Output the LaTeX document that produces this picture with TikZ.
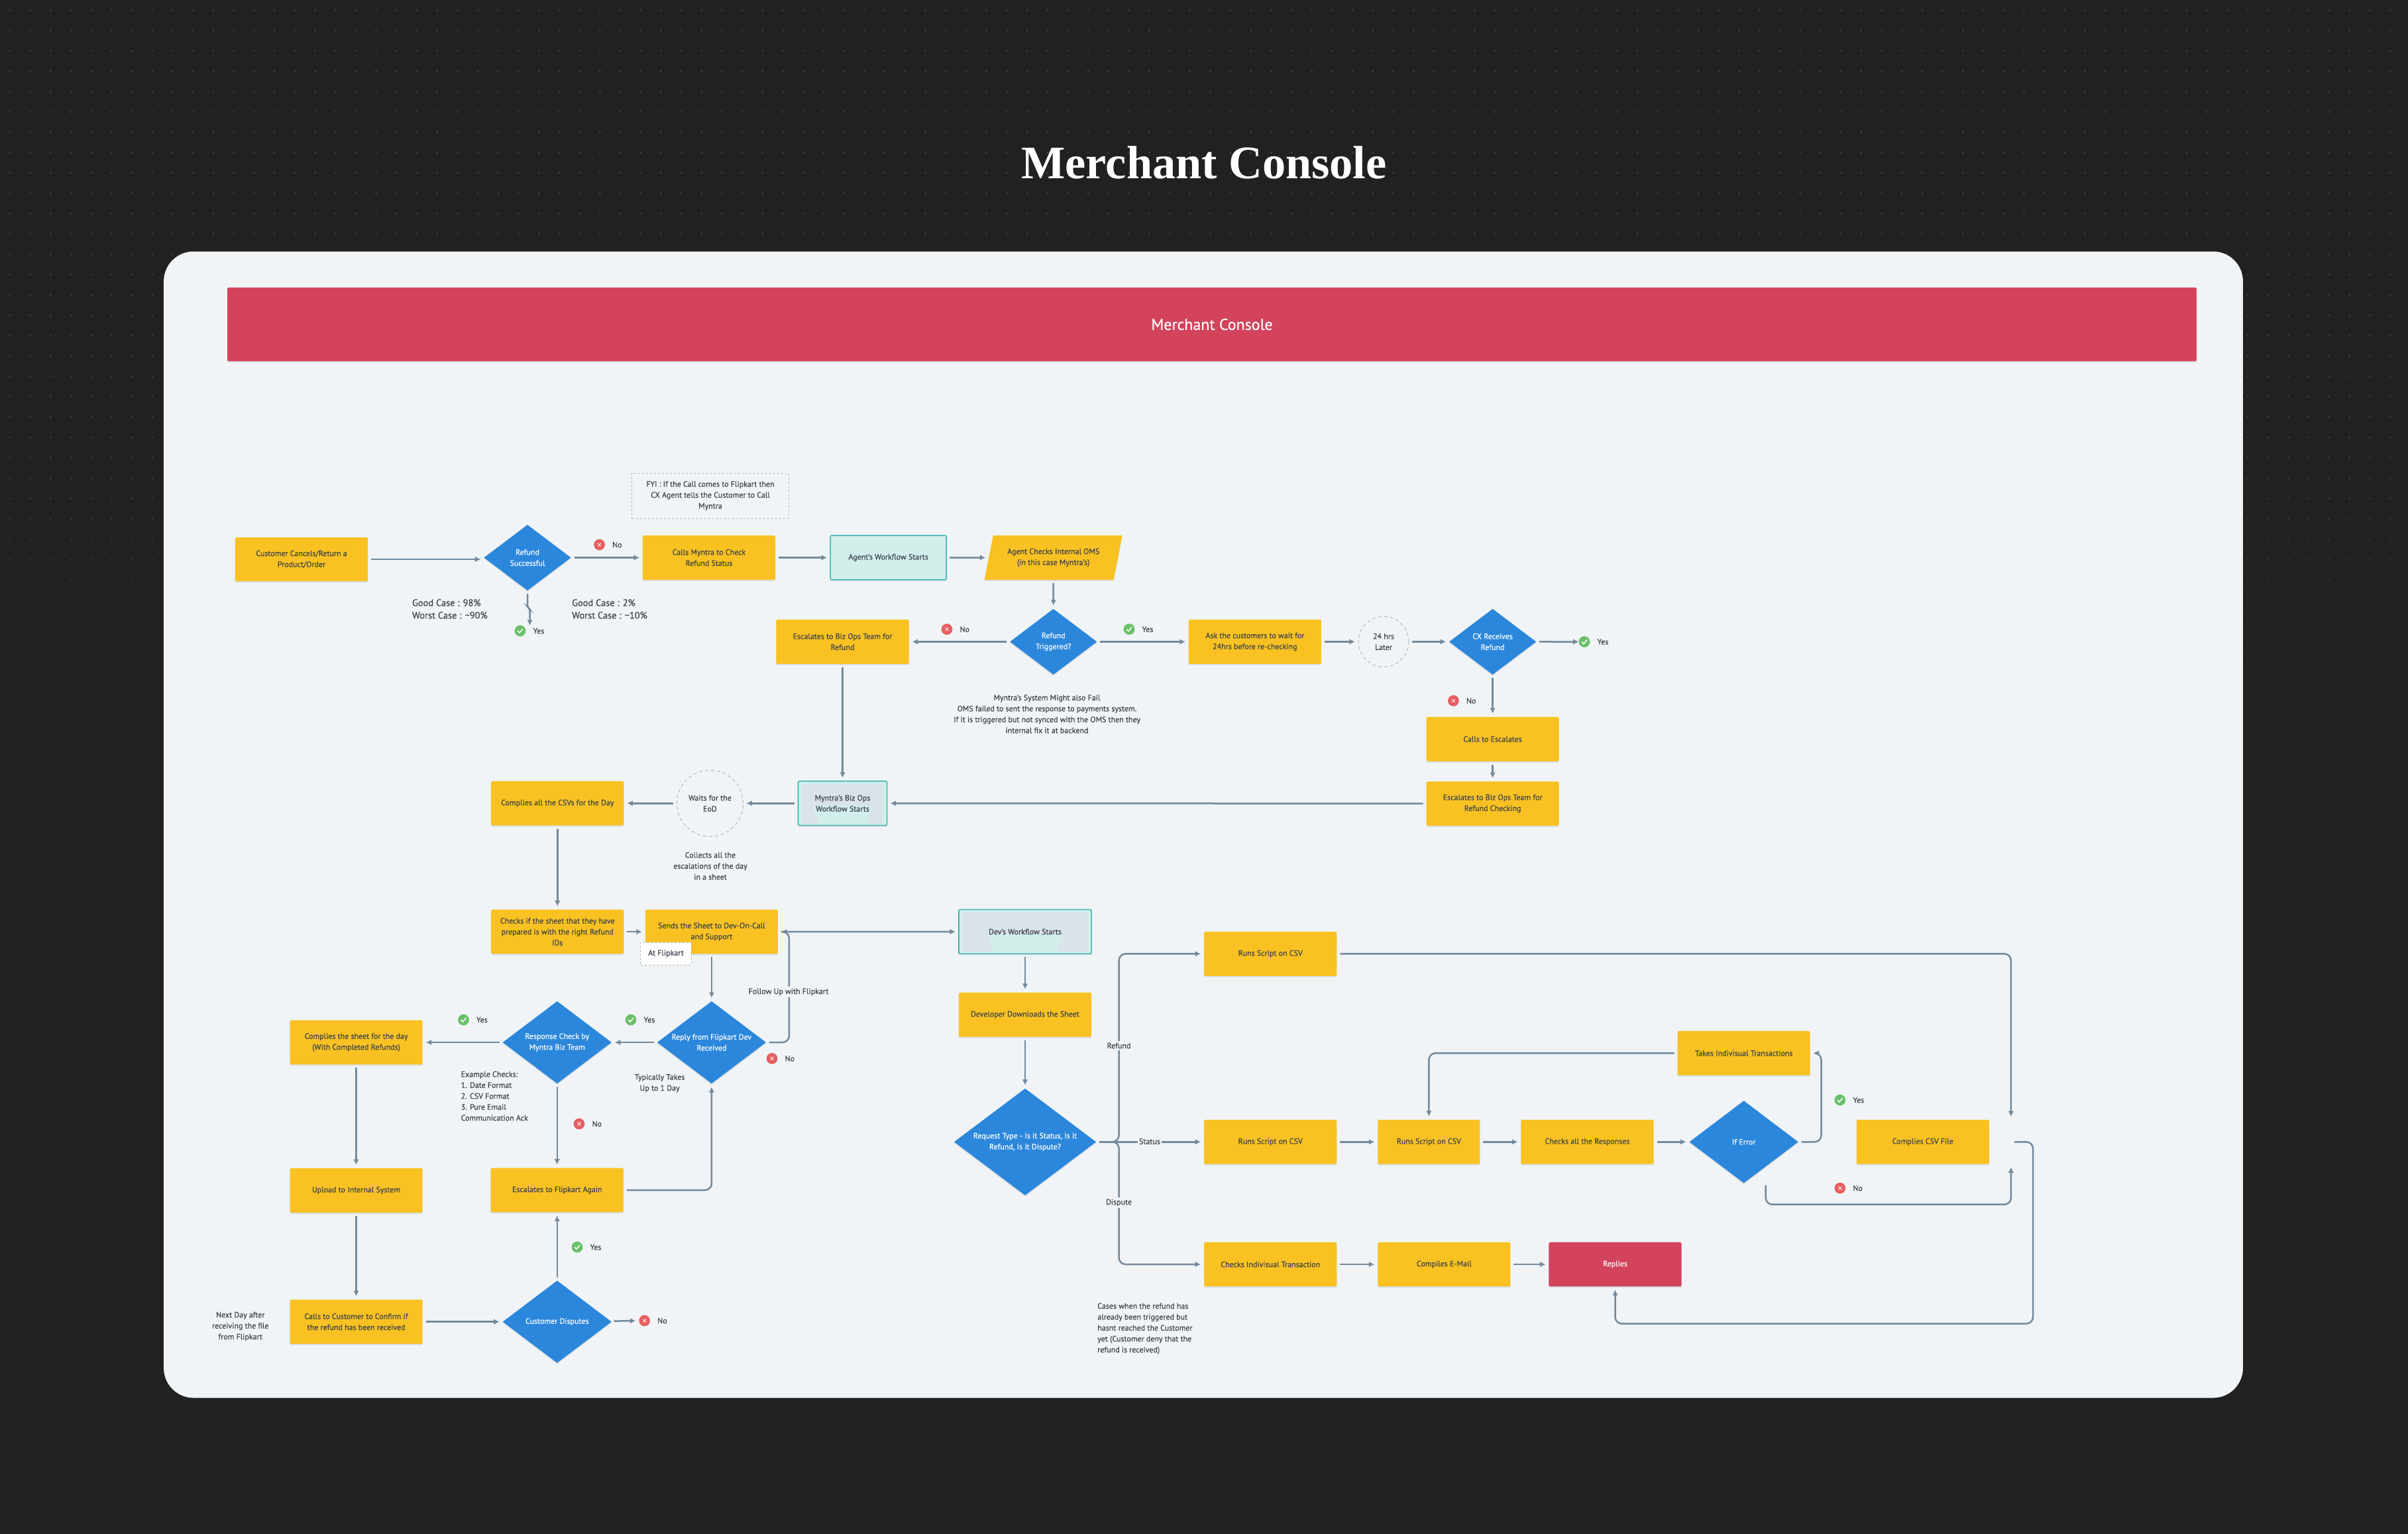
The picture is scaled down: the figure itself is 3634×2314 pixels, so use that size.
\documentclass[tikz,border=0pt]{standalone}
\usepackage{fontspec}
\setmainfont{PT Sans}[BoldFont=PT Sans, BoldFeatures={FakeBold=0.25}]
\newfontfamily\titlefont{Liberation Serif}
\usepackage{xcolor}
\usetikzlibrary{shapes.geometric, arrows.meta, positioning, shadows}
\definecolor{bgDark}{HTML}{212121}
\definecolor{dotGrey}{HTML}{3E3E3E}
\definecolor{panelGrey}{HTML}{F0F4F7}
\definecolor{bannerRed}{HTML}{D3445C}
\definecolor{stepYellow}{HTML}{F9C222}
\definecolor{askBlue}{HTML}{2B87DB}
\definecolor{startTeal}{HTML}{D2EFEC}
\definecolor{startEdge}{HTML}{3DB5B0}
\definecolor{stippleGrey}{HTML}{DAE4E8}
\definecolor{lineGrey}{HTML}{75899A}
\definecolor{inkDark}{HTML}{3A424C}
\definecolor{dashGrey}{HTML}{AEB8BF}
\definecolor{okGreen}{HTML}{6ABF69}
\definecolor{noRed}{HTML}{E56060}

\begin{document}
\begin{tikzpicture}[
            x=0.01cm,
            y=-0.01cm,
            softshadow/.style={
                drop shadow={shadow xshift=0cm, shadow yshift=-0.02cm, opacity=.09, fill=black}
            },
            % Plain steps
            block/.style={
                rectangle,
                fill=stepYellow,
                text=inkDark,
                minimum width=2cm,
                minimum height=0.667cm,
                inner sep=0pt,
                outer sep=0pt,
                align=center,
                rounded corners=0.6pt,
                font={\bfseries\fontsize{3.4pt}{4.69pt}\selectfont},
                softshadow
            },
            slanted/.style={
                block,
                trapezium,
                trapezium left angle=70,
                trapezium right angle=110,
                trapezium stretches=true,
                minimum width=2.08cm,
                rounded corners=0pt
            },
            redblock/.style={
                block,
                fill=bannerRed,
                text=white
            },
            workflow/.style={
                block,
                fill=startTeal,
                draw=startEdge,
                line width=0.016cm
            },
            workflowdots/.style 2 args={
                workflow,
                path picture={
                    \fill[stippleGrey] ([xshift=0.06cm,yshift=0.02cm]path picture bounding box.south west)
                        rectangle ([xshift=-0.06cm,yshift=-0.04cm]path picture bounding box.north east);
                    \fill[startTeal] ([shift={(-#1,4)}]path picture bounding box.center)
                        -- ([shift={(#1,4)}]path picture bounding box.center)
                        -- ([shift={(#2,33)}]path picture bounding box.center)
                        -- ([shift={(-#2,33)}]path picture bounding box.center) -- cycle;
                }
            },
            decision/.style={
                diamond,
                aspect=1.32,
                fill=askBlue,
                text=white,
                inner sep=0pt,
                outer sep=0pt,
                minimum width=1.64cm,
                minimum height=1.24cm,
                align=center,
                font={\bfseries\fontsize{3.4pt}{4.69pt}\selectfont},
                softshadow
            },
            waiting/.style={
                circle,
                draw=dashGrey,
                dash pattern=on 0.05cm off 0.04cm,
                line width=0.01cm,
                text=inkDark,
                inner sep=0pt,
                outer sep=0pt,
                align=center,
                font={\bfseries\fontsize{3.4pt}{4.69pt}\selectfont}
            },
            dashbox/.style={
                rectangle,
                draw=dashGrey,
                dash pattern=on 0.03cm off 0.03cm,
                line width=0.01cm,
                text=inkDark,
                inner sep=0pt,
                align=center,
                font={\bfseries\fontsize{3.4pt}{4.69pt}\selectfont}
            },
            note/.style={
                text=inkDark,
                inner sep=0pt,
                align=center,
                font={\bfseries\fontsize{3.4pt}{4.69pt}\selectfont}
            },
            leftnote/.style={
                note,
                align=left,
                anchor=west
            },
            bignote/.style={
                leftnote,
                font={\bfseries\fontsize{4.1pt}{5.39pt}\selectfont}
            },
            edgetext/.style={
                note,
                fill=panelGrey,
                inner xsep=0.02cm,
                inner ysep=0.03cm
            },
            marktext/.style={
                text=inkDark,
                inner sep=0.105cm,
                font={\bfseries\fontsize{3.4pt}{4.69pt}\selectfont}
            },
            yesmark/.style={
                circle,
                fill=okGreen,
                minimum size=0.167cm,
                inner sep=0pt,
                outer sep=0pt,
                label={[marktext]right:Yes},
                path picture={
                    \draw[white, line width=0.015cm]
                        ([shift={(-4,0)}]path picture bounding box.center)
                        -- ([shift={(-1,3)}]path picture bounding box.center)
                        -- ([shift={(4,-3)}]path picture bounding box.center);
                }
            },
            nomark/.style={
                circle,
                fill=noRed,
                minimum size=0.167cm,
                inner sep=0pt,
                outer sep=0pt,
                label={[marktext]right:No},
                path picture={
                    \draw[white, line width=0.008cm]
                        ([shift={(-2.5,-2.5)}]path picture bounding box.center)
                        -- ([shift={(2.5,2.5)}]path picture bounding box.center);
                    \draw[white, line width=0.008cm]
                        ([shift={(-2.5,2.5)}]path picture bounding box.center)
                        -- ([shift={(2.5,-2.5)}]path picture bounding box.center);
                }
            },
            line/.style={
                draw=lineGrey,
                -{Latex[length=0.085cm,width=0.085cm]},
                line width=0.025cm,
                shorten >=0.05cm,
                shorten <=0.05cm
            },
            bent/.style={
                line,
                rounded corners=0.1cm
            }
        ]

        % --- Backdrop ---
        \useasboundingbox (0,0) rectangle (3634,2314);
        \fill[bgDark] (-10,-10) rectangle (3644,2324);
        \foreach \j in {0,...,33} {
            \pgfmathsetmacro\dotmix{\j<24 ? 100 : 100-(\j-23)*9}
            \pgfmathsetmacro\rowy{15.3+30.7*\j}
            \fill[dotGrey!\dotmix!bgDark] \foreach \i in {0,...,117} {(15+30.7*\i,\rowy) circle (1.6)};
        }
        \node [rectangle, fill=panelGrey, rounded corners=0.45cm, minimum width=31.36cm, minimum height=17.29cm] (panel) at (1816,1244.5) {};
        \node [text=white, font={\titlefont\bfseries\fontsize{20pt}{23pt}\selectfont}] (title) at (1817,245) {Merchant Console};
        \node [redblock, minimum width=29.7cm, minimum height=1.11cm, font={\bfseries\fontsize{6.8pt}{8pt}\selectfont}] (banner) at (1829,489.5) {Merchant Console};

        % --- Nodes: agent row ---
        \node [block, minimum height=0.66cm] (cancel) at (455,844) {Customer Cancels/Return a\\Product/Order};
        \node [decision, minimum width=1.31cm, minimum height=0.99cm] (success) at (796,841.5) {Refund\\Successful};
        \node [block] (callmyntra) at (1070,841.5) {Calls Myntra to Check\\Refund Status};
        \node [workflow, minimum width=1.75cm, right=0.83cm of callmyntra] (agentstart) {Agent's Workflow Starts};
        \node [slanted, right=0.64cm of agentstart] (agentoms) {Agent Checks Internal OMS\\(in this case Myntra's)};
        \node [dashbox, minimum width=2.36cm, minimum height=0.68cm] (fyi) at (1072,748) {FYI : If the Call comes to Flipkart then\\CX Agent tells the Customer to Call\\Myntra};

        % --- Nodes: refund check row ---
        \node [decision, minimum width=1.31cm, minimum height=0.99cm, below=0.44cm of agentoms] (triggered) {Refund\\Triggered?};
        \node [block, left=1.525cm of triggered] (escbiz) {Escalates to Biz Ops Team for\\Refund};
        \node [block, right=1.385cm of triggered] (askwait) {Ask the customers to wait for\\24hrs before re-checking};
        \node [waiting, minimum size=0.76cm, right=0.56cm of askwait] (later) {24 hrs\\Later};
        \node [decision, minimum width=1.31cm, minimum height=0.99cm, right=0.61cm of later] (received) {CX Receives\\Refund};
        \node [block, below=0.64cm of received] (callesc) {Calls to Escalates};
        \node [block, below=0.305cm of callesc] (escchecking) {Escalates to Biz Ops Team for\\Refund Checking};

        % --- Nodes: biz ops ---
        \node [workflowdots={45}{36}, minimum width=1.34cm, below=1.77cm of escbiz] (bizstart) {Myntra's Biz Ops\\Workflow Starts};
        \node [waiting, minimum size=1cm, left=0.83cm of bizstart] (eod) {Waits for the\\EoD};
        \node [block, left=0.8cm of eod] (csvday) {Complies all the CSVs for the Day};
        \node [block, below=1.27cm of csvday] (checksheet) {Checks if the sheet that they have\\prepared is with the right Refund\\IDs};
        \node [block, right=0.325cm of checksheet] (sendsheet) {Sends the Sheet to Dev-On-Call\\and Support};
        \node [dashbox, fill=white, minimum width=0.76cm, minimum height=0.34cm] (atflipkart) at (1005,1439) {At Flipkart};
        \node [decision, below=0.715cm of sendsheet] (reply) {Reply from Flipkart Dev\\Received};
        \node [decision, left=0.69cm of reply] (response) {Response Check by\\Myntra Biz Team};
        \node [block, left=1.21cm of response] (sheetday) {Complies the sheet for the day\\(With Completed Refunds)};
        \node [block, below=1.565cm of sheetday] (upload) {Upload to Internal System};
        \node [block, below=1.315cm of upload] (callcustomer) {Calls to Customer to Confirm if\\the refund has been received};
        \node [decision, right=1.21cm of callcustomer] (disputes) {Customer Disputes};
        \node [block, below=1.275cm of response] (escagain) {Escalates to Flipkart Again};

        % --- Nodes: dev ---
        \node [workflowdots={57}{46}] (devstart) at (1547,1406) {Dev's Workflow Starts};
        \node [block, below=0.585cm of devstart] (download) {Developer Downloads the Sheet};
        \node [decision, minimum width=2.14cm, minimum height=1.61cm, below=0.78cm of download] (request) {Request Type - Is it Status, Is it\\Refund, Is it Dispute?};
        \node [block, right=1.63cm of request] (runmid) {Runs Script on CSV};
        \node [block, above=2.17cm of runmid] (runtop) {Runs Script on CSV};
        \node [block, below=1.18cm of runmid] (checktxn) {Checks Indivisual Transaction};
        \node [block, minimum width=1.54cm, right=0.62cm of runmid] (runagain) {Runs Script on CSV};
        \node [block, right=0.62cm of runagain] (checkall) {Checks all the Responses};
        \node [decision, right=0.54cm of checkall] (iferror) {If Error};
        \node [block, above=0.385cm of iferror] (taketxn) {Takes Indivisual Transactions};
        \node [block, right=0.88cm of iferror] (csvfile) {Complies CSV File};
        \node [block, right=0.62cm of checktxn] (email) {Compiles E-Mail};
        \node [redblock, right=0.58cm of email] (replies) {Replies};

        % --- Side notes ---
        \node [bignote] (goodleft) at (621.4,919) {Good Case : 98\%\\Worst Case : \textasciitilde 90\%};
        \node [bignote] (goodright) at (862.5,919) {Good Case : 2\%\\Worst Case : \textasciitilde 10\%};
        \node [note] (omsfail) at (1580,1077.5) {Myntra's System Might also Fail\\OMS failed to sent the response to payments system.\\If it is triggered but not synced with the OMS then they\\internal fix it at backend};
        \node [note] (collects) at (1072,1306.8) {Collects all the\\escalations of the day\\in a sheet};
        \node [leftnote] (examples) at (695,1654) {Example Checks:\\1. Date Format\\2. CSV Format\\3. Pure Email\\Communication Ack};
        \node [note] (oneday) at (995.6,1634.7) {Typically Takes\\Up to 1 Day};
        \node [note] (nextday) at (362.8,2001.7) {Next Day after\\receiving the file\\from Flipkart};
        \node [leftnote] (cases) at (1655.6,2005) {Cases when the refund has\\already been triggered but\\hasnt reached the Customer\\yet (Customer deny that the\\refund is received)};

        % --- Yes / No marks ---
        \node [yesmark] (yessuccess) at (785,952) {};
        \node [nomark] (nosuccess) at (904.6,822) {};
        \node [nomark] (notriggered) at (1429,949.6) {};
        \node [yesmark] (yestriggered) at (1704,949.6) {};
        \node [yesmark] (yesreceived) at (2391,968.5) {};
        \node [nomark] (noreceived) at (2193.4,1057.5) {};
        \node [yesmark] (yesresponse) at (699.5,1539) {};
        \node [yesmark] (yesreply) at (952,1539) {};
        \node [nomark] (noreply) at (1165,1597.4) {};
        \node [nomark] (noresponse) at (874,1696) {};
        \node [yesmark] (yesdisputes) at (871,1882) {};
        \node [nomark] (nodisputes) at (972.7,1993) {};
        \node [yesmark] (yeserror) at (2776.8,1660) {};
        \node [nomark] (noerror) at (2776.8,1793) {};

        % --- Bend points ---
        \coordinate (successdown) at (799.5,949);
        \coordinate [right=0.17cm of sendsheet.east] (followbend);
        \coordinate [left=1.285cm of runtop.west] (refundbend);
        \coordinate [left=1.285cm of checktxn.west] (disputebend);
        \coordinate [right=0.168cm of taketxn.east] (errorbend);
        \coordinate [right=0.33cm of csvfile.east] (csvgate);
        \coordinate [above=0.33cm of csvgate] (csvtop);
        \coordinate [below=0.33cm of csvgate] (csvbottom);
        \coordinate (errorout) at (2664.7,1783.7);
        \coordinate (errorlow) at (2664.7,1817.7);
        \coordinate (csvloop) at (3068,1997.6);

        % --- Edges ---
        \path [line] (cancel.east) -- (cancel.east -| success.west);
        \path [line] (success) -- (callmyntra);
        \path [line, rounded corners=0.03cm] (success.south) -- ++(0,25) -- ++(3.5,3) -- (successdown);
        \path [line] (callmyntra) -- (agentstart);
        \path [line] (agentstart) -- (agentoms);
        \path [line] (agentoms) -- (triggered);
        \path [line] (triggered) -- (escbiz);
        \path [line] (triggered) -- (askwait);
        \path [line] (askwait) -- (later);
        \path [line] (later) -- (received);
        \path [line, shorten >=0cm] (received) -- (yesreceived);
        \path [line] (received) -- (callesc);
        \path [line] (callesc) -- (escchecking);
        \path [line] (escchecking) -- (bizstart);
        \path [line] (escbiz) -- (bizstart);
        \path [line] (bizstart) -- (eod);
        \path [line] (eod) -- (csvday);
        \path [line] (csvday) -- (checksheet);
        \path [line] (checksheet) -- (sendsheet);
        \path [line] (sendsheet) -- (reply);
        \path [line] (sendsheet) -- (devstart);
        \path [bent] (reply.east) -| (followbend) -- (sendsheet.east);
        \path [line] (reply) -- (response);
        \path [line] (response) -- (sheetday);
        \path [line] (response) -- (escagain);
        \path [bent] (escagain.east) -| (reply.south);
        \path [line] (sheetday) -- (upload);
        \path [line] (upload) -- (callcustomer);
        \path [line] (callcustomer) -- (disputes);
        \path [line] (disputes) -- (escagain);
        \path [line] (disputes) -- (nodisputes);
        \path [line] (devstart) -- (download);
        \path [line] (download) -- (request);
        \path [bent] (request.east) -| (refundbend) -- (runtop.west);
        \path [line] (request) -- (runmid);
        \path [bent] (request.east) -| (disputebend) -- (checktxn.west);
        \path [line] (runmid) -- (runagain);
        \path [line] (runagain) -- (checkall);
        \path [line] (checkall) -- (iferror);
        \path [bent] (iferror.east) -| (errorbend) -- (taketxn.east);
        \path [bent] (taketxn.west) -| (runagain.north);
        \path [bent] (errorout) -- (errorlow) -| (csvbottom);
        \path [bent] (runtop.east) -| (csvtop);
        \path [bent] (csvgate) -| (csvloop) -| (replies.south);
        \path [line] (checktxn) -- (email);
        \path [line] (email) -- (replies);

        % --- Connector labels ---
        \node [edgetext] (followtext) at (1190,1497) {Follow Up with Flipkart};
        \node [edgetext] (refundtext) at (1688.5,1578) {Refund};
        \node [edgetext] (statustext) at (1735,1722.5) {Status};
        \node [edgetext] (disputetext) at (1688.5,1815) {Dispute};

\end{tikzpicture}
\end{document}
